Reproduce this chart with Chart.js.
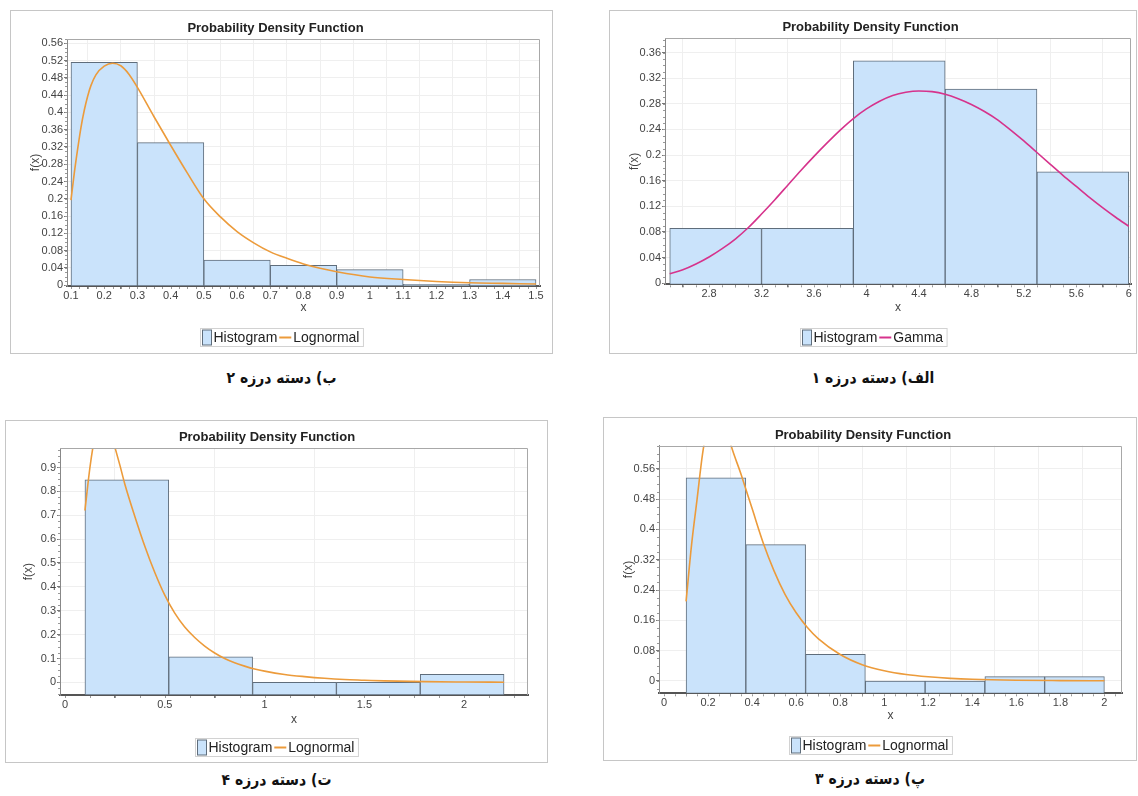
<!DOCTYPE html>
<html><head><meta charset="utf-8">
<script src="https://cdn.jsdelivr.net/npm/chart.js@4.4.1/dist/chart.umd.min.js"></script>
<style>
html,body{margin:0;padding:0;background:#fff;}
body{width:1138px;height:796px;position:relative;overflow:hidden;font-family:"Liberation Sans",Arial,sans-serif;}
.frame{position:absolute;border:1px solid #c6c6c6;background:#fff;}
.frame canvas{display:block;}
.cap{position:absolute;text-align:center;font-family:"DejaVu Sans Condensed","DejaVu Sans",sans-serif;font-weight:bold;font-size:15.5px;color:#111;direction:rtl;line-height:20px;}
</style></head><body>
<div class="frame" style="left:10px;top:10px;width:541px;height:342px"><canvas id="c2" width="541" height="342"></canvas></div>
<div class="frame" style="left:609px;top:10px;width:526px;height:342px"><canvas id="c1" width="526" height="342"></canvas></div>
<div class="frame" style="left:5px;top:420px;width:541px;height:341px"><canvas id="c4" width="541" height="341"></canvas></div>
<div class="frame" style="left:603px;top:417px;width:532px;height:342px"><canvas id="c3" width="532" height="342"></canvas></div>
<div class="cap" dir="rtl" style="left:10px;top:368px;width:543px">ب) دسته درزه ۲</div>
<div class="cap" dir="rtl" style="left:609px;top:368px;width:528px">الف) دسته درزه ۱</div>
<div class="cap" dir="rtl" style="left:5px;top:770px;width:543px">ت) دسته درزه ۴</div>
<div class="cap" dir="rtl" style="left:603px;top:769px;width:534px">پ) دسته درزه ۳</div>
<script>
// ---------- Set 1 (الف) : Gamma ----------
const set1Edges = [2.5, 3.2, 3.9, 4.6, 5.3, 6.0];
const set1Hist  = [0.0857, 0.0857, 0.347, 0.303, 0.174];
const set1CurveX = [2.5,2.6,2.7,2.8,2.9,3.0,3.1,3.2,3.3,3.4,3.5,3.6,3.7,3.8,3.9,4.0,4.1,4.2,4.3,4.4,4.5,4.6,4.7,4.8,4.9,5.0,5.1,5.2,5.3,5.4,5.5,5.6,5.7,5.8,5.9,6.0];
const set1CurveY = [0.015,0.021,0.030,0.041,0.054,0.069,0.087,0.108,0.130,0.153,0.176,0.198,0.219,0.239,0.257,0.272,0.284,0.293,0.298,0.300,0.299,0.295,0.288,0.279,0.268,0.255,0.239,0.222,0.204,0.186,0.168,0.151,0.134,0.118,0.103,0.089];
const set1XTicks = [2.8,3.2,3.6,4,4.4,4.8,5.2,5.6,6];
const set1YTicks = [0,0.04,0.08,0.12,0.16,0.2,0.24,0.28,0.32,0.36];

// ---------- Set 2 (ب) : Lognormal ----------
const set2Edges = [0.1,0.3,0.5,0.7,0.9,1.1,1.3,1.5];
const set2Hist  = [0.516,0.330,0.058,0.046,0.036,0.002,0.013];
const set2CurveX = [0.1,0.11,0.12,0.13,0.14,0.15,0.16,0.175,0.2,0.225,0.25,0.275,0.3,0.35,0.4,0.45,0.5,0.55,0.6,0.65,0.7,0.75,0.8,0.85,0.9,1.0,1.1,1.2,1.3,1.4,1.5];
const set2CurveY = [0.197,0.26,0.315,0.365,0.405,0.437,0.462,0.487,0.507,0.514,0.508,0.488,0.458,0.39,0.324,0.26,0.20,0.158,0.124,0.098,0.077,0.062,0.049,0.039,0.031,0.019,0.013,0.0085,0.0055,0.004,0.0025];
const set2XTicks = [0.1,0.2,0.3,0.4,0.5,0.6,0.7,0.8,0.9,1,1.1,1.2,1.3,1.4,1.5];
const set2YTicks = [0,0.04,0.08,0.12,0.16,0.2,0.24,0.28,0.32,0.36,0.4,0.44,0.48,0.52,0.56];

// ---------- Set 3 (پ) : Lognormal ----------
const set3Edges = [0.1,0.3714,0.6429,0.9143,1.1857,1.4571,1.7286,2.0];
const set3Hist  = [0.536,0.360,0.0705,0,0,0.0115,0.0115];
const set3CurveX = [0.1,0.125,0.15,0.175,0.2,0.225,0.25,0.275,0.3,0.35,0.4,0.45,0.5,0.55,0.6,0.65,0.7,0.8,0.9,1.0,1.1,1.2,1.3,1.4,1.6,1.8,2.0];
const set3CurveY = [0.21,0.36,0.48,0.60,0.68,0.72,0.73,0.69,0.63,0.545,0.455,0.365,0.29,0.228,0.18,0.142,0.112,0.07,0.043,0.027,0.017,0.011,0.007,0.0045,0.002,0.001,0.0005];
const set3XTicks = [0,0.2,0.4,0.6,0.8,1,1.2,1.4,1.6,1.8,2];
const set3YTicks = [0,0.08,0.16,0.24,0.32,0.4,0.48,0.56];

// ---------- Set 4 (ت) : Lognormal ----------
const set4Edges = [0.1,0.52,0.94,1.36,1.78,2.2];
const set4Hist  = [0.848,0.107,0,0,0.034];
const set4CurveX = [0.1,0.125,0.15,0.175,0.2,0.225,0.25,0.275,0.3,0.35,0.4,0.45,0.5,0.55,0.6,0.65,0.7,0.75,0.8,0.85,0.9,0.95,1.0,1.1,1.2,1.3,1.4,1.5,1.6,1.8,2.0,2.2];
const set4CurveY = [0.72,0.90,1.03,1.09,1.10,1.06,0.985,0.91,0.83,0.695,0.57,0.46,0.365,0.29,0.232,0.188,0.152,0.123,0.10,0.082,0.068,0.056,0.047,0.033,0.024,0.017,0.012,0.009,0.006,0.003,0.0015,0.0005];
const set4XTicks = [0,0.5,1,1.5,2];
const set4YTicks = [0,0.1,0.2,0.3,0.4,0.5,0.6,0.7,0.8,0.9];

const FONT = '"Liberation Sans", Arial, sans-serif';
Chart.defaults.font.family = FONT;
const fmt = v => String(Math.round(v * 10000) / 10000);

const plotFrame = {
  id: 'plotFrame',
  afterDatasetsDraw(chart) {
    const {ctx, chartArea: a} = chart;
    ctx.save();
    ctx.strokeStyle = '#a8a8a8'; ctx.lineWidth = 1;
    ctx.beginPath();
    ctx.moveTo(a.left, Math.round(a.top) + 0.5);
    ctx.lineTo(Math.round(a.right) - 0.5, Math.round(a.top) + 0.5);
    ctx.lineTo(Math.round(a.right) - 0.5, a.bottom);
    ctx.stroke();
    ctx.restore();
  }
};

// small minor tick marks between the major ticks, as on the original axes
const minorTicks = {
  id: 'minorTicks',
  afterDraw(chart, args, opts) {
    const ctx = chart.ctx, a = chart.chartArea, n = opts.n || 4;
    ctx.save();
    ctx.strokeStyle = '#999'; ctx.lineWidth = 1;
    ctx.beginPath();
    const xs = chart.scales.x, ys = chart.scales.y;
    const xt = xs.ticks.map(t => t.value), yt = ys.ticks.map(t => t.value);
    const stepX = xt[1] - xt[0], stepY = yt[1] - yt[0];
    for (let v = xt[0] - stepX; v <= xs.max + 1e-9; v += stepX / n) {
      if (v < xs.min) continue;
      const p = Math.round(xs.getPixelForValue(v)) + 0.5;
      ctx.moveTo(p, a.bottom + 1); ctx.lineTo(p, a.bottom + 3);
    }
    for (let v = yt[0] - stepY; v <= ys.max + 1e-9; v += stepY / n) {
      if (v < ys.min) continue;
      const p = Math.round(ys.getPixelForValue(v)) + 0.5;
      ctx.moveTo(a.left - 2, p); ctx.lineTo(a.left, p);
    }
    ctx.stroke();
    ctx.restore();
  }
};

const boxLegend = {
  id: 'boxLegend',
  afterDraw(chart, args, opts) {
    const ctx = chart.ctx, ds = chart.data.datasets;
    ctx.save();
    ctx.font = '14px ' + FONT;
    ctx.textBaseline = 'middle';
    const sw = 9, sh = 15, gap = 2, lineW = 12, h = 18;
    const w1 = ctx.measureText(ds[0].label).width, w2 = ctx.measureText(ds[1].label).width;
    const total = 2 + sw + gap + w1 + gap + lineW + gap + w2 + 4;
    const x0 = Math.round((chart.width - total) / 2) + 0.5;
    const y0 = Math.round(opts.y - h / 2) + 0.5;
    ctx.fillStyle = '#fff'; ctx.strokeStyle = '#d2d2d2'; ctx.lineWidth = 1;
    ctx.fillRect(x0, y0, total, h); ctx.strokeRect(x0, y0, total, h);
    let x = x0 + 2;
    ctx.fillStyle = ds[0].backgroundColor; ctx.fillRect(x, y0 + 1.5, sw, sh);
    ctx.strokeStyle = ds[0].borderColor; ctx.strokeRect(x, y0 + 1.5, sw, sh);
    x += sw + gap;
    ctx.fillStyle = '#222'; ctx.fillText(ds[0].label, x, y0 + h / 2 + 0.5);
    x += w1 + gap;
    ctx.strokeStyle = ds[1].borderColor; ctx.lineWidth = 2;
    ctx.beginPath(); ctx.moveTo(x, y0 + h / 2); ctx.lineTo(x + lineW, y0 + h / 2); ctx.stroke();
    x += lineW + gap;
    ctx.fillText(ds[1].label, x, y0 + h / 2 + 0.5);
    ctx.restore();
  }
};

function makeChart(id, d, L) {
  const centers = d.edges.slice(0, -1).map((e, i) => (e + d.edges[i + 1]) / 2);
  const bars = centers.map((c, i) => ({x: c, y: d.hist[i]}));
  const curve = d.curveX.map((x, i) => ({x: x, y: d.curveY[i]}));
  return new Chart(document.getElementById(id), {
    type: 'bar',
    data: {datasets: [
      {type: 'bar', label: 'Histogram', data: bars, xAxisID: 'xb', yAxisID: 'y',
       backgroundColor: '#cae3fb', borderColor: '#5f6d7b', borderWidth: 1, borderSkipped: false,
       barPercentage: 1, categoryPercentage: 1, grouped: false, base: L.yMin, order: 2},
      {type: 'line', label: d.fitName, data: curve, xAxisID: 'x', yAxisID: 'y',
       borderColor: d.color, borderWidth: 1.6, pointRadius: 0, cubicInterpolationMode: 'monotone',
       fill: false, order: 1}
    ]},
    options: {
      responsive: false, animation: false, events: [],
      layout: {padding: {left: 0, top: 0, right: L.padR, bottom: L.padB}},
      plugins: {
        legend: {display: false}, tooltip: {enabled: false},
        title: {display: true, text: 'Probability Density Function', color: '#222',
                font: {size: 13, weight: 'bold', family: FONT}, padding: {top: L.titleTop, bottom: L.titleBot}},
        boxLegend: {y: L.legendY},
        minorTicks: {n: 4}
      },
      scales: {
        x: {type: 'linear', position: 'bottom', min: L.xMin, max: L.xMax, offset: false,
            afterBuildTicks: s => { s.ticks = d.xTicks.map(v => ({value: v})); },
            afterFit: s => { s.height = L.xAxisH; },
            ticks: {callback: v => fmt(v), color: '#444', font: {size: 11}, padding: 0, maxRotation: 0, autoSkip: false},
            grid: {color: '#efefef', tickLength: 3, tickColor: '#777'},
            border: {color: '#555', width: 2},
            title: {display: true, text: 'x', color: '#444', font: {size: 12}, padding: {top: 0, bottom: L.xTitlePad}}},
        xb: {type: 'linear', position: 'bottom', display: false, min: L.xMin, max: L.xMax, offset: false,
             afterBuildTicks: s => { s.ticks = d.edges.map(v => ({value: v})); }},
        y: {type: 'linear', min: L.yMin, max: L.yMax,
            afterBuildTicks: s => { s.ticks = d.yTicks.map(v => ({value: v})); },
            afterFit: s => { s.width = L.yAxisW; },
            ticks: {callback: v => fmt(v), color: '#444', font: {size: 11}, padding: 1},
            grid: {color: '#efefef', tickLength: 3, tickColor: '#777'},
            border: {color: '#888', width: 1},
            title: {display: true, text: 'f(x)', color: '#444', font: {size: 12}, padding: {top: L.yTitlePad, bottom: 0}}}
      }
    },
    plugins: [plotFrame, minorTicks, boxLegend]
  });
}

const LOGN = '#ec9b3b', GAMMA = '#d6338c';

makeChart('c2', {edges: set2Edges, hist: set2Hist, curveX: set2CurveX, curveY: set2CurveY, xTicks: set2XTicks, yTicks: set2YTicks, fitName: 'Lognormal', color: LOGN},
  {xMin: 0.088, xMax: 1.512, yMin: -0.002, yMax: 0.57, padR: 12, padB: 27, xAxisH: 40, yAxisW: 56,
   titleTop: 9.5, titleBot: 2.9, legendY: 326, xTitlePad: 10.8, yTitlePad: 17});

makeChart('c1', {edges: set1Edges, hist: set1Hist, curveX: set1CurveX, curveY: set1CurveY, xTicks: set1XTicks, yTicks: set1YTicks, fitName: 'Gamma', color: GAMMA},
  {xMin: 2.464, xMax: 6.017, yMin: -0.0016, yMax: 0.382, padR: 5, padB: 28.7, xAxisH: 40, yAxisW: 55,
   titleTop: 8.5, titleBot: 3.3, legendY: 325.7, xTitlePad: 9.1, yTitlePad: 17.5});

makeChart('c4', {edges: set4Edges, hist: set4Hist, curveX: set4CurveX, curveY: set4CurveY, xTicks: set4XTicks, yTicks: set4YTicks, fitName: 'Lognormal', color: LOGN},
  {xMin: -0.025, xMax: 2.32, yMin: -0.053, yMax: 0.98, padR: 19, padB: 27, xAxisH: 40, yAxisW: 54,
   titleTop: 8.5, titleBot: 3.3, legendY: 325.7, xTitlePad: 8.5, yTitlePad: 15.5});

makeChart('c3', {edges: set3Edges, hist: set3Hist, curveX: set3CurveX, curveY: set3CurveY, xTicks: set3XTicks, yTicks: set3YTicks, fitName: 'Lognormal', color: LOGN},
  {xMin: -0.023, xMax: 2.08, yMin: -0.0325, yMax: 0.621, padR: 14, padB: 26.7, xAxisH: 40, yAxisW: 55,
   titleTop: 9.9, titleBot: 2.2, legendY: 327, xTitlePad: 10.4, yTitlePad: 17.5});
</script>
</body></html>
